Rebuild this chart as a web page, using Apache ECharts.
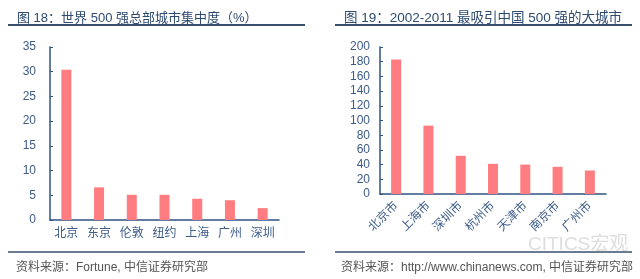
<!DOCTYPE html>
<html><head><meta charset="utf-8">
<script src="https://cdn.jsdelivr.net/npm/echarts@6/dist/echarts.min.js"></script>
<style>html,body{margin:0;padding:0;background:#fff}#c{width:640px;height:279px}</style>
</head><body><div id="c"></div>
<script>
const leftCategories = ['北京','东京','伦敦','纽约','上海','广州','深圳'];
const leftValues = [30.4, 6.6, 5.1, 5.1, 4.3, 4.0, 2.4];
const rightCategories = ['北京市','上海市','深圳市','杭州市','天津市','南京市','广州市'];
const rightValues = [183, 93, 52, 41, 40, 37, 32];
const leftTitle = '图 18：世界 500 强总部城市集中度（%）';
const rightTitle = '图 19：2002-2011 最吸引中国 500 强的大城市';
const leftSource = '资料来源：Fortune, 中信证券研究部';
const rightSource = '资料来源：http://www.chinanews.com, 中信证券研究部';

const FONT = '"Liberation Sans", "Noto Sans CJK SC", sans-serif';
const AX = '#2f5380';
const LBL = '#3d5c88';
const BAR = '#ff7c80';
const TITLE = '#2e4a70';

const chart = echarts.init(document.getElementById('c'), null, {renderer:'canvas'});
chart.setOption({
  backgroundColor: '#fff',
  animation: false,
  textStyle: {fontFamily: FONT},
  title: [
    {text: leftTitle, left: 12, top: 7, textStyle: {fontSize: 13, fontWeight: 'normal', color: TITLE, fontFamily: FONT}},
    {text: rightTitle, left: 339, top: 7, textStyle: {fontSize: 13.5, fontWeight: 'normal', color: TITLE, fontFamily: FONT}},
    {text: leftSource, left: 11, top: 257, textStyle: {fontSize: 12, fontWeight: 'normal', color: '#555', fontFamily: FONT}},
    {text: rightSource, left: 336, top: 257, textStyle: {fontSize: 12, fontWeight: 'normal', color: '#555', fontFamily: FONT}}
  ],
  graphic: [
    {type: 'line', shape: {x1: 8, y1: 25, x2: 305, y2: 25}, style: {stroke: '#3a4f6c', lineWidth: 2}},
    {type: 'line', shape: {x1: 335, y1: 25, x2: 632, y2: 25}, style: {stroke: '#3a4f6c', lineWidth: 2}},
    {type: 'line', shape: {x1: 8, y1: 252, x2: 305, y2: 252}, style: {stroke: '#3a4f6c', lineWidth: 1.5}},
    {type: 'line', shape: {x1: 335, y1: 252, x2: 632, y2: 252}, style: {stroke: '#3a4f6c', lineWidth: 1.5}},
    {type: 'text', left: 528, top: 235, style: {text: 'CITICS宏观', fill: 'rgba(170,170,170,0.4)', font: '19px "Liberation Sans", "Noto Sans CJK SC"'}}
  ],
  grid: [
    {left: 50, top: 47, width: 229, height: 173},
    {left: 380, top: 47, width: 226, height: 147}
  ],
  xAxis: [
    {type: 'category', gridIndex: 0, data: leftCategories,
     axisLine: {lineStyle: {color: AX, width: 1.5}}, axisTick: {show: false},
     axisLabel: {color: LBL, fontSize: 12, margin: 8, fontFamily: FONT}},
    {type: 'category', gridIndex: 1, data: rightCategories,
     axisLine: {lineStyle: {color: AX, width: 1.5}}, axisTick: {show: false},
     axisLabel: {color: LBL, fontSize: 12, margin: 10, rotate: 45, fontFamily: FONT}}
  ],
  yAxis: [
    {type: 'value', gridIndex: 0, min: 0, max: 35, interval: 5, splitLine: {show: false},
     axisLine: {show: true, lineStyle: {color: AX, width: 1.5}}, axisTick: {show: true, inside: true, length: 3, lineStyle: {color: AX}},
     axisLabel: {color: LBL, fontSize: 12, margin: 14, fontFamily: FONT}},
    {type: 'value', gridIndex: 1, min: 0, max: 200, interval: 20, splitLine: {show: false},
     axisLine: {show: true, lineStyle: {color: AX, width: 1.5}}, axisTick: {show: true, inside: true, length: 3, lineStyle: {color: AX}},
     axisLabel: {color: LBL, fontSize: 12, margin: 10, fontFamily: FONT}}
  ],
  series: [
    {type: 'bar', xAxisIndex: 0, yAxisIndex: 0, data: leftValues, barWidth: 10, itemStyle: {color: BAR}},
    {type: 'bar', xAxisIndex: 1, yAxisIndex: 1, data: rightValues, barWidth: 10, itemStyle: {color: BAR}}
  ]
});
</script></body></html>
